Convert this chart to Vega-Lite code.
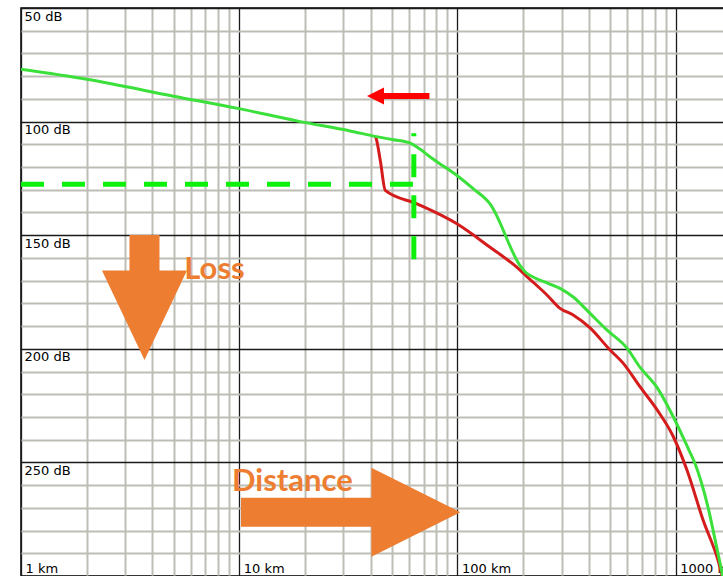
{
  "$schema": "https://vega.github.io/schema/vega-lite/v6.json",
  "width": 705,
  "height": 568,
  "autosize": {"type": "none"},
  "padding": {"left": 21, "top": 8, "right": 0, "bottom": 0},
  "background": "white",
  "config": {
    "view": {"stroke": "#000000", "strokeWidth": 1.5}
  },
  "datasets": {
    "curves": [
      {"series": "path A", "km": 1, "dB": 77.0},
      {"series": "path A", "km": 2, "dB": 81.4},
      {"series": "path A", "km": 5, "dB": 88.8},
      {"series": "path A", "km": 10, "dB": 94.3},
      {"series": "path A", "km": 19, "dB": 100.0},
      {"series": "path A", "km": 32.2, "dB": 104.1},
      {"series": "path A", "km": 42, "dB": 106.5},
      {"series": "path A", "km": 51, "dB": 108.0},
      {"series": "path A", "km": 60.7, "dB": 109.5},
      {"series": "path A", "km": 67, "dB": 112.0},
      {"series": "path A", "km": 75, "dB": 115.6},
      {"series": "path A", "km": 86, "dB": 119.5},
      {"series": "path A", "km": 99.4, "dB": 123.7},
      {"series": "path A", "km": 118, "dB": 129.5},
      {"series": "path A", "km": 141, "dB": 136.2},
      {"series": "path A", "km": 194, "dB": 163.5},
      {"series": "path A", "km": 205, "dB": 166.3},
      {"series": "path A", "km": 222, "dB": 168.4},
      {"series": "path A", "km": 260, "dB": 171.2},
      {"series": "path A", "km": 295, "dB": 173.4},
      {"series": "path A", "km": 339, "dB": 177.2},
      {"series": "path A", "km": 405, "dB": 184.4},
      {"series": "path A", "km": 485, "dB": 191.8},
      {"series": "path A", "km": 599, "dB": 199.8},
      {"series": "path A", "km": 687, "dB": 208.2},
      {"series": "path A", "km": 822, "dB": 217.1},
      {"series": "path A", "km": 973, "dB": 229.8},
      {"series": "path A", "km": 1140, "dB": 243.8},
      {"series": "path A", "km": 1227, "dB": 250.6},
      {"series": "path A", "km": 1393, "dB": 268.1},
      {"series": "path A", "km": 1563, "dB": 290.2},
      {"series": "path A", "km": 1660, "dB": 302},
      {"series": "path B", "km": 42, "dB": 106.5},
      {"series": "path B", "km": 42.4, "dB": 107.4},
      {"series": "path B", "km": 44.3, "dB": 117.1},
      {"series": "path B", "km": 46.7, "dB": 130.3},
      {"series": "path B", "km": 65.2, "dB": 136.2},
      {"series": "path B", "km": 99.4, "dB": 145.0},
      {"series": "path B", "km": 141, "dB": 155.3},
      {"series": "path B", "km": 188, "dB": 164.3},
      {"series": "path B", "km": 208, "dB": 168.2},
      {"series": "path B", "km": 257, "dB": 176.3},
      {"series": "path B", "km": 295, "dB": 182.2},
      {"series": "path B", "km": 339, "dB": 185.1},
      {"series": "path B", "km": 405, "dB": 190.8},
      {"series": "path B", "km": 500, "dB": 200.5},
      {"series": "path B", "km": 574, "dB": 206.3},
      {"series": "path B", "km": 687, "dB": 216.8},
      {"series": "path B", "km": 822, "dB": 226.9},
      {"series": "path B", "km": 973, "dB": 238.5},
      {"series": "path B", "km": 1127, "dB": 253.5},
      {"series": "path B", "km": 1336, "dB": 275.5},
      {"series": "path B", "km": 1563, "dB": 293.1},
      {"series": "path B", "km": 1640, "dB": 300.5}
    ],
    "guides": [
      {"km": 1, "km2": 62.5, "dB": 127.55, "dB2": 127.55},
      {"km": 63.1, "km2": 63.1, "dB": 160.6, "dB2": 105.15}
    ],
    "shift": [
      {"km": 44, "km2": 74.4, "dB": 88.7, "dB2": 88.7}
    ],
    "shiftHead": [
      {"km": 42.1, "dB": 88.7}
    ],
    "lossArrow": [
      {"km": 3.68, "dB": 177.4}
    ],
    "distanceArrow": [
      {"km": 32.4, "dB": 271.9}
    ],
    "notes": [
      {"label": "Loss", "km": 5.6, "dB": 169.4},
      {"label": "Distance", "km": 9.26, "dB": 262.6}
    ]
  },
  "encoding": {
    "x": {
      "field": "km",
      "type": "quantitative",
      "scale": {"type": "log", "domain": [1, 1700], "nice": false, "zero": false},
      "axis": {
        "title": null,
        "values": [1, 2, 3, 4, 5, 6, 7, 8, 9, 10, 20, 30, 40, 50, 60, 70, 80, 90, 100, 200, 300, 400, 500, 600, 700, 800, 900, 1000],
        "grid": true,
        "gridColor": {"condition": {"test": "abs(log(datum.value)/LN10 - round(log(datum.value)/LN10)) < 0.001", "value": "#1a1a1a"}, "value": "#bdbdb5"},
        "gridWidth": {"condition": {"test": "abs(log(datum.value)/LN10 - round(log(datum.value)/LN10)) < 0.001", "value": 1.3}, "value": 2},
        "domain": false,
        "ticks": false,
        "tickSize": 0,
        "labelExpr": "abs(log(datum.value)/LN10 - round(log(datum.value)/LN10)) < 0.001 ? datum.value + ' km' : ''",
        "labelAlign": "left",
        "labelBaseline": "alphabetic",
        "labelPadding": -4,
        "labelOffset": 4,
        "labelFont": "DejaVu Sans",
        "labelFontSize": 13,
        "labelColor": "#000000",
        "labelFlush": false,
        "labelOverlap": false,
        "labelBound": false
      }
    },
    "y": {
      "field": "dB",
      "type": "quantitative",
      "scale": {"domain": [50, 300], "reverse": true, "nice": false, "zero": false},
      "axis": {
        "title": null,
        "values": [50, 60, 70, 80, 90, 100, 110, 120, 130, 140, 150, 160, 170, 180, 190, 200, 210, 220, 230, 240, 250, 260, 270, 280, 290, 300],
        "grid": true,
        "gridColor": {"condition": {"test": "datum.value % 50 === 0", "value": "#1a1a1a"}, "value": "#bdbdb5"},
        "gridWidth": {"condition": {"test": "datum.value % 50 === 0", "value": 1.3}, "value": 2},
        "domain": false,
        "ticks": false,
        "tickSize": 0,
        "labelExpr": "datum.value % 50 === 0 && datum.value < 300 ? datum.value + ' dB' : ''",
        "labelAlign": "left",
        "labelBaseline": "alphabetic",
        "labelPadding": -3,
        "labelOffset": 12,
        "labelFont": "DejaVu Sans",
        "labelFontSize": 13,
        "labelColor": "#000000",
        "labelFlush": false,
        "labelOverlap": false,
        "labelBound": false
      }
    }
  },
  "layer": [
    {
      "data": {"name": "curves"},
      "transform": [{"filter": "datum.series === 'path B'"}],
      "mark": {"type": "line", "color": "#d41c1c", "strokeWidth": 3, "interpolate": "monotone", "clip": true}
    },
    {
      "data": {"name": "curves"},
      "transform": [{"filter": "datum.series === 'path A'"}],
      "mark": {"type": "line", "color": "#3be03b", "strokeWidth": 3, "interpolate": "monotone", "clip": true}
    },
    {
      "data": {"name": "guides"},
      "mark": {"type": "rule", "color": "#0cf00c", "strokeWidth": 5, "strokeDash": [23, 18]},
      "encoding": {
        "x2": {"field": "km2"},
        "y2": {"field": "dB2"}
      }
    },
    {
      "data": {"name": "shift"},
      "mark": {"type": "rule", "color": "#ff0000", "strokeWidth": 6},
      "encoding": {
        "x2": {"field": "km2"},
        "y2": {"field": "dB2"}
      }
    },
    {
      "data": {"name": "shiftHead"},
      "mark": {"type": "point", "shape": "M-1,0L1,-1L1,1Z", "size": 289, "filled": true, "color": "#ff0000", "opacity": 1}
    },
    {
      "data": {"name": "lossArrow"},
      "mark": {"type": "point", "shape": "M-0.24,-1L0.24,-1L0.24,-0.43L0.68,-0.43L0,1L-0.68,-0.43L-0.24,-0.43Z", "size": 15625, "filled": true, "color": "#ed7d31", "opacity": 1}
    },
    {
      "data": {"name": "distanceArrow"},
      "mark": {"type": "point", "shape": "M-1,-0.132L0.189,-0.132L0.189,-0.406L1,0L0.189,0.406L0.189,0.132L-1,0.132Z", "size": 48092, "filled": true, "color": "#ed7d31", "opacity": 1}
    },
    {
      "data": {"name": "notes"},
      "mark": {"type": "text", "align": "left", "baseline": "alphabetic", "font": "Lato", "fontWeight": "bold", "fontSize": 31, "color": "#ed7d31"},
      "encoding": {
        "text": {"field": "label"}
      }
    }
  ]
}
